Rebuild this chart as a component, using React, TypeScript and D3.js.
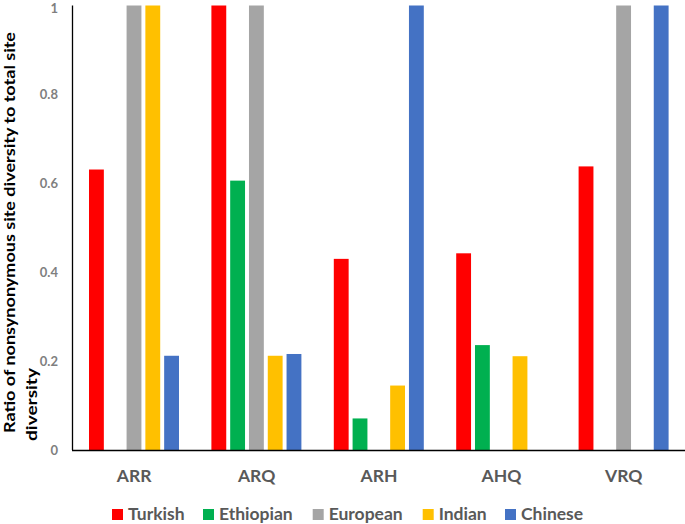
import React from 'react';
import * as d3 from 'd3';

const categories = ['ARR', 'ARQ', 'ARH', 'AHQ', 'VRQ'];
const seriesNames = ['Turkish', 'Ethiopian', 'European', 'Indian', 'Chinese'];
const turkish = [0.631, 1, 0.43, 0.4425, 0.638];
const ethiopian = [0, 0.606, 0.071, 0.236, 0];
const european = [1, 1, 0, 0, 1];
const indian = [1, 0.212, 0.145, 0.211, 0];
const chinese = [0.212, 0.216, 1, 0, 1];
const yTicks = [0, 0.2, 0.4, 0.6, 0.8, 1];
const colors = ['#FF0000', '#00B050', '#A5A5A5', '#FFC000', '#4472C4'];
const seriesValues = [turkish, ethiopian, european, indian, chinese];

const W = 685;
const H = 524;
const FONT = 'Lato, "Open Sans", sans-serif';

export default function App() {
  const x0 = d3.scaleBand<string>().domain(categories).range([73, 685]).padding(0);
  const x1 = d3.scaleBand<string>().domain(seriesNames).range([16, 106]).paddingInner(0.21).paddingOuter(0);
  const y = d3.scaleLinear().domain([0, 1]).range([450, 5.5]);

  const legendX = [112, 203, 312.7, 422.7, 505];

  return (
    <svg width={W} height={H} style={{ position: 'absolute', left: 0, top: 0, background: '#fff' }} fontFamily={FONT}>
      {categories.map((c, ci) => (
        <g key={c} transform={`translate(${x0(c)},0)`}>
          {seriesNames.map((s, si) => {
            const v = seriesValues[si][ci];
            if (!v) return null;
            return (
              <rect key={s} x={x1(s)} y={y(v)} width={x1.bandwidth()} height={y(0) - y(v)} fill={colors[si]} />
            );
          })}
        </g>
      ))}
      <line x1={72.5} x2={72.5} y1={y(1)} y2={y(0)} stroke="#000" strokeWidth={1.3} />
      <line x1={72} x2={685} y1={450.5} y2={450.5} stroke="#000" strokeWidth={1.3} />
      {yTicks.map((t) => (
        <text key={t} x={58} y={Math.max(y(t) + 4.5, 12.5)} textAnchor="end" fontSize={13} fontWeight="bold" fill="#7f7f7f">
          {d3.format('')(t)}
        </text>
      ))}
      {categories.map((c) => (
        <text key={c} x={(x0(c) as number) + x0.bandwidth() / 2} y={482} textAnchor="middle" fontSize={17.5} fontWeight="bold" fill="#595959">
          {c}
        </text>
      ))}
      <text transform="translate(14.5,433) rotate(-90)" fontSize={15} fontWeight="bold" fill="#000" textLength={401} lengthAdjust="spacingAndGlyphs">
        Ratio of nonsynonymous site diversity to total site
      </text>
      <text transform="translate(36.5,441) rotate(-90)" fontSize={15} fontWeight="bold" fill="#000" textLength={73} lengthAdjust="spacingAndGlyphs">
        diversity
      </text>
      {seriesNames.map((s, i) => (
        <g key={s}>
          <rect x={legendX[i]} y={509} width={11} height={11} fill={colors[i]} />
          <text x={legendX[i] + 16} y={520} fontSize={17.5} fontWeight="bold" fill="#595959">
            {s}
          </text>
        </g>
      ))}
    </svg>
  );
}
